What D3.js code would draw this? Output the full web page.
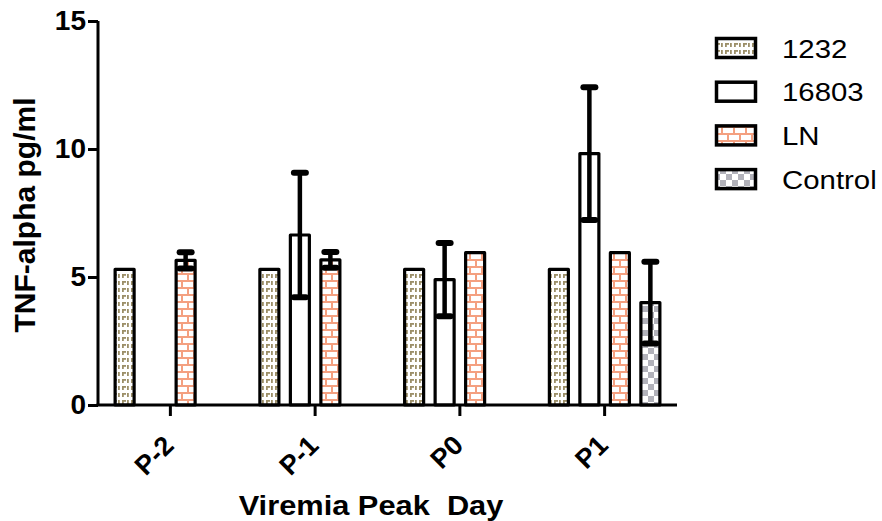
<!DOCTYPE html>
<html><head><meta charset="utf-8">
<script src="https://cdn.jsdelivr.net/npm/d3@7"></script>
<style>body{margin:0;background:#fff}svg{display:block}text{font-family:Arial,"Liberation Sans",sans-serif}</style>
</head><body>
<svg id="c" width="882" height="521"></svg>
<script>
const categories = ["P-2","P-1","P0","P1"];
const series = ["1232","16803","LN","Control"];
const v1232 = [5.3,5.3,5.3,5.3];
const v16803 = [null,6.64,4.9,9.82];
const vLN = [5.65,5.67,5.95,5.95];
const vControl = [null,null,null,4.0];
const e1232 = [null,null,null,null];
const e16803 = [null,2.43,1.43,2.59];
const eLN = [0.32,0.31,null,null];
const eControl = [null,null,null,1.6];
const yTicks = [0,5,10,15];
const yTitle = "TNF-alpha pg/ml";
const xTitle = "Viremia Peak  Day";

const values = {"1232":v1232,"16803":v16803,"LN":vLN,"Control":vControl};
const errs = {"1232":e1232,"16803":e16803,"LN":eLN,"Control":eControl};
const fills = {"1232":"url(#p1232)","16803":"#fff","LN":"url(#pLN)","Control":"url(#pCtl)"};

const svg = d3.select("#c");
const defs = svg.append("defs");
// 1232 pattern
let p = defs.append("pattern").attr("id","p1232").attr("patternUnits","userSpaceOnUse").attr("width",9).attr("height",7);
p.append("rect").attr("width",9).attr("height",7).attr("fill","#fff");
p.append("rect").attr("x",1).attr("y",1).attr("width",1.8).attr("height",4).attr("fill","#9c8f68");
p.append("rect").attr("x",5).attr("y",1).attr("width",4).attr("height",1.8).attr("fill","#9c8f68");
p.append("rect").attr("x",5).attr("y",1).attr("width",1.8).attr("height",4).attr("fill","#9c8f68");
// LN brick
p = defs.append("pattern").attr("id","pLN").attr("patternUnits","userSpaceOnUse").attr("width",12).attr("height",14);
p.append("rect").attr("width",12).attr("height",14).attr("fill","#fff");
p.append("rect").attr("x",0).attr("y",0).attr("width",12).attr("height",2).attr("fill","#f4a080");
p.append("rect").attr("x",0).attr("y",7).attr("width",12).attr("height",2).attr("fill","#f4a080");
p.append("rect").attr("x",1).attr("y",0).attr("width",2).attr("height",7).attr("fill","#f4a080");
p.append("rect").attr("x",7).attr("y",7).attr("width",2).attr("height",7).attr("fill","#f4a080");
// Control checker
p = defs.append("pattern").attr("id","pCtl").attr("patternUnits","userSpaceOnUse").attr("width",12).attr("height",12);
p.append("rect").attr("width",12).attr("height",12).attr("fill","#fff");
p.append("rect").attr("x",0).attr("y",0).attr("width",6).attr("height",6).attr("fill","#b2b2ba");
p.append("rect").attr("x",6).attr("y",6).attr("width",6).attr("height",6).attr("fill","#b2b2ba");

const y = d3.scaleLinear().domain([0,15]).range([405,21]);
const x0 = d3.scaleBand().domain(categories).range([98,677]);
const x1 = d3.scaleBand().domain(series).range([-61,61]).paddingInner(0.377).paddingOuter(0.1885);

const g = svg.append("g");
series.forEach(s => {
  categories.forEach((c,i) => {
    const v = values[s][i];
    if (v == null) return;
    const cx = x0(c) + x0.bandwidth()/2;
    const bx = cx + x1(s);
    g.append("rect").attr("x",bx).attr("y",y(v)).attr("width",x1.bandwidth()).attr("height",y(0)-y(v))
      .attr("fill",fills[s]).attr("stroke","#000").attr("stroke-width",3.2).attr("stroke-linejoin","round");
    const e = errs[s][i];
    if (e != null) {
      const mx = bx + x1.bandwidth()/2;
      g.append("line").attr("x1",mx).attr("x2",mx).attr("y1",y(v+e)).attr("y2",y(v-e)).attr("stroke","#000").attr("stroke-width",4.5);
      [v+e, v-e].forEach(t => g.append("line").attr("x1",mx-6).attr("x2",mx+6).attr("y1",y(t)).attr("y2",y(t))
        .attr("stroke","#000").attr("stroke-width",6).attr("stroke-linecap","round"));
    }
  });
});

// Y axis
const ya = svg.append("g").attr("transform","translate(98,0)")
  .call(d3.axisLeft(y).tickValues(yTicks).tickSize(10).tickPadding(2).tickSizeOuter(0));
ya.select(".domain").attr("stroke","#000").attr("stroke-width",3).attr("d","M0,"+y(15)+"V"+y(0));
ya.selectAll(".tick line").attr("stroke","#000").attr("stroke-width",3);
ya.selectAll(".tick text").attr("font-size",28).attr("font-weight","bold").attr("fill","#000").attr("font-family","Arial, 'Liberation Sans', sans-serif");

// X axis
const xa = svg.append("g").attr("transform","translate(0,405)")
  .call(d3.axisBottom(x0).tickSize(11).tickSizeOuter(0));
xa.select(".domain").attr("stroke","#000").attr("stroke-width",3).attr("d","M96.5,0H677");
xa.selectAll(".tick line").attr("stroke","#000").attr("stroke-width",3);
xa.selectAll(".tick text").attr("font-size",27).attr("font-weight","bold").attr("fill","#000")
  .attr("font-family","Arial, 'Liberation Sans', sans-serif")
  .attr("text-anchor","end").attr("dy",null).attr("y",null)
  .attr("transform","translate(5,42) rotate(-45)");

// titles
svg.append("text").attr("transform","translate(35,215) rotate(-90)").attr("text-anchor","middle")
  .attr("font-size",30).attr("font-weight","bold").text(yTitle);
svg.append("text").attr("transform","translate(371,515) scale(1.1,1)").attr("text-anchor","middle").style("white-space","pre")
  .attr("font-size",28).attr("font-weight","bold").text(xTitle);

// legend
const lg = svg.append("g");
series.forEach((s,i) => {
  const cy = 48 + i*43.7;
  lg.append("rect").attr("x",716.5).attr("y",cy-9.5).attr("width",39).attr("height",19)
    .attr("fill",fills[s]).attr("stroke","#000").attr("stroke-width",3.5);
  lg.append("text").attr("transform","translate(782,"+(cy+9.5)+") scale(1.13,1)").attr("font-size",26).text(s);
});
</script>
</body></html>
